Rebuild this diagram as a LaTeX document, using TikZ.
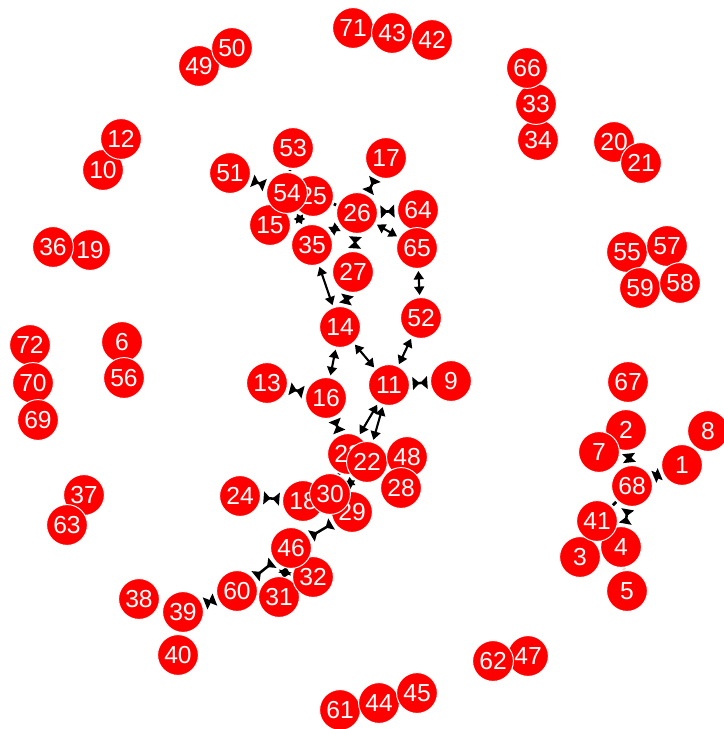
\documentclass[tikz,border=0pt]{standalone}
\usepackage{fontspec}
\newfontfamily\lblfont{Liberation Sans}
\usetikzlibrary{arrows.meta,backgrounds}

\tikzset{
  vtx/.style={circle, fill=red, draw=white, line width=0.7pt, minimum size=1.02cm,
    inner sep=0pt, text=white, font=\lblfont\fontsize{17.5}{17.5}\selectfont},
  lnk/.style={{Triangle[length=6pt,width=7pt]}-{Triangle[length=6pt,width=7pt]},
    line width=1.5pt, shorten <=1.5pt, shorten >=1.5pt},
  bow/.style={{Triangle[reversed,length=5pt,width=9pt]}-{Triangle[reversed,length=5pt,width=9pt]},
    line width=1.8pt, shorten <=2pt, shorten >=2pt},
  stub/.style={line width=2pt, shorten <=1pt, shorten >=1pt}
}

\begin{document}
\begin{tikzpicture}[x=0.025cm, y=-0.025cm]
\useasboundingbox (0,0) rectangle (723,729);
% vertices, later ones on top
\foreach \n/\x/\y in {71/353/28, 42/432/40, 43/392/33, 49/199/66, 50/232/48,
    34/538/140, 33/536/104, 66/527/68, 10/103/170, 12/121/139, 20/614/142,
    21/641/163, 53/293/148, 51/230/173, 17/386/158, 25/313/196, 15/270/225,
    54/287/193, 26/357/213, 64/418/210, 35/312/245, 65/417/248, 27/353/272,
    19/90/250, 36/53/247, 55/627/252, 57/667/246, 59/640/288, 58/680/283,
    14/340/327, 52/421/318, 72/30/345, 70/33/383, 69/38/420, 6/122/342,
    56/124/378, 13/267/383, 16/326/398, 11/389/385, 9/451/381, 67/628/382,
    2/626/430, 7/599/452, 8/708/431, 1/682/465, 23/348/454, 22/367/462,
    48/407/457, 28/401/488, 68/632/486, 37/84/495, 63/67/525, 24/240/496,
    18/303/501, 29/352/512, 30/330/494, 4/621/547, 3/580/557, 41/597/521,
    31/279/597, 32/313/577, 46/291/548, 60/237/591, 5/627/591, 38/139/599,
    39/183/612, 40/178/655, 47/528/656, 62/493/661, 61/340/710, 44/379/703,
    45/417/693}
  \node[vtx] (n\n) at (\x,\y) {\n};
% links
\begin{pgfonlayer}{background}
\foreach \a/\b in {54/35, 26/35, 26/65, 35/14, 65/52, 14/16, 14/11, 52/11,
    11/23, 11/22, 23/29}
  \draw[lnk] (n\a) -- (n\b);
\foreach \a/\b in {51/54, 17/26, 64/26, 26/27, 27/14, 9/11, 13/16, 16/23,
    24/18, 29/46, 46/60, 60/39, 2/68, 1/68, 68/4, 46/31}
  \draw[bow] (n\a) -- (n\b);
\foreach \a/\b in {53/54, 25/26, 23/30, 41/68, 4/5}
  \draw[stub] (n\a) -- (n\b);
\end{pgfonlayer}
\end{tikzpicture}
\end{document}
